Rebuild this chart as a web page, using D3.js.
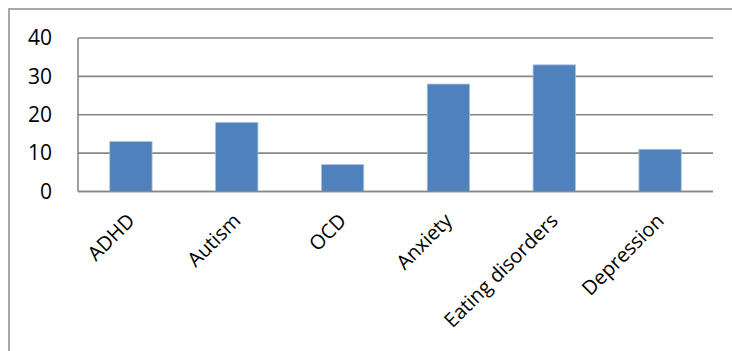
<!DOCTYPE html>
<html>
<head>
<meta charset="utf-8">
<script src="https://cdn.jsdelivr.net/npm/d3@7/dist/d3.min.js"></script>
<style>
  html, body { margin: 0; padding: 0; background: #fff; }
  svg { display: block; }
  text { font-family: "Open Sans", "Liberation Sans", sans-serif; fill: #000; }
</style>
</head>
<body>
<svg id="chart" width="732" height="351"></svg>
<script>
// Number of cases by condition
const categories = ["ADHD", "Autism", "OCD", "Anxiety", "Eating disorders", "Depression"];
const counts = [13, 18, 7, 28, 33, 11];
const yTicks = [0, 10, 20, 30, 40];

const svg = d3.select("#chart");
const plot = { left: 78, right: 713, top: 38, bottom: 191.5 };

// Outer chart frame (right and bottom edges fall outside the window)
svg.append("rect")
  .attr("x", 9).attr("y", 9)
  .attr("width", 760).attr("height", 400)
  .attr("fill", "#fff")
  .attr("stroke", "#8c8c8c")
  .attr("stroke-width", 1.5);

const x = d3.scaleBand()
  .domain(categories)
  .range([plot.left, plot.right])
  .paddingInner(0.6)
  .paddingOuter(0.3);

const y = d3.scaleLinear()
  .domain([0, 40])
  .range([plot.bottom, plot.top]);

// Horizontal gridlines
svg.append("g")
  .selectAll("line")
  .data(yTicks)
  .join("line")
  .attr("x1", plot.left).attr("x2", plot.right)
  .attr("y1", d => y(d)).attr("y2", d => y(d))
  .attr("stroke", "#878787")
  .attr("stroke-width", 1.6);

// Vertical axis line
svg.append("line")
  .attr("x1", plot.left).attr("x2", plot.left)
  .attr("y1", y(40)).attr("y2", y(0))
  .attr("stroke", "#878787")
  .attr("stroke-width", 1.6);

// Y tick labels
const yAxis = d3.axisLeft(y).tickValues(yTicks).tickSize(0).tickPadding(26);
const gy = svg.append("g")
  .attr("transform", `translate(${plot.left},0)`)
  .call(yAxis);
gy.select(".domain").remove();
gy.selectAll("text")
  .style("font-family", '"Open Sans", "Liberation Sans", sans-serif')
  .style("font-size", "21px")
  .attr("fill", "#000");

// Bars
svg.append("g")
  .selectAll("rect")
  .data(categories)
  .join("rect")
  .attr("x", d => x(d))
  .attr("width", x.bandwidth())
  .attr("y", (d, i) => y(counts[i]))
  .attr("height", (d, i) => y(0) - y(counts[i]))
  .attr("fill", "#4f81bd")
  .attr("stroke", "#a9c0de")
  .attr("stroke-width", 0.8);

// Redraw the baseline above the bars
svg.append("line")
  .attr("x1", plot.left).attr("x2", plot.right)
  .attr("y1", y(0)).attr("y2", y(0))
  .attr("stroke", "#878787")
  .attr("stroke-width", 1.6);

// Rotated category labels
svg.append("g")
  .selectAll("text")
  .data(categories)
  .join("text")
  .attr("transform", d => `translate(${x(d) + x.bandwidth() / 2 + 5},222) rotate(-45)`)
  .attr("text-anchor", "end")
  .style("font-size", "20px")
  .text(d => d);
</script>
</body>
</html>
